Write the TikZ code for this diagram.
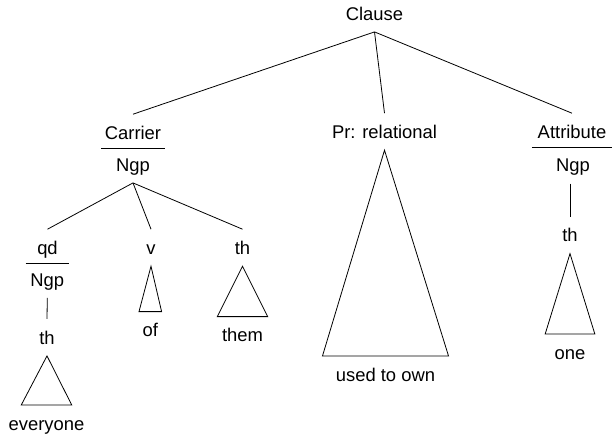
\documentclass[tikz,border=0pt]{standalone}
\usepackage{fontspec}
\setmainfont{Liberation Sans}
\usetikzlibrary{positioning}

\begin{document}
\begin{tikzpicture}[x=1pt, y=-1pt, line width=0.8pt,
  font=\fontsize{18.4}{22}\selectfont]
\tikzstyle{lbl}=[anchor=base, inner xsep=0pt, inner ysep=11.5pt, text height=13.2pt, text depth=0pt]
\tikzstyle{fn}=[lbl, minimum width=#1]
\useasboundingbox (0,0) rectangle (612,440);
% top
\node[lbl] (clause) at (374.5,20) {Clause};
\node[fn=62.6pt] (carrier) at (133,139.3) {Carrier};
\node[lbl] (carrngp) at (133,171) {Ngp};
\node[lbl] (pr) at (384.5,138.3) {Pr: relational};
\node[fn=79.4pt] (attr) at (572,138.3) {Attribute};
\node[lbl] (attrngp) at (573,171.7) {Ngp};
\draw (clause.south) -- (carrier.north);
\draw (clause.south) -- (pr.north);
\draw (clause.south) -- (attr.north);
\draw ([yshift=-9pt]carrier.base west) -- ([yshift=-9pt]carrier.base east);
\draw ([yshift=-9.4pt]attr.base west) -- ([yshift=-9.4pt]attr.base east);
% Carrier daughters
\node[fn=43pt] (qd) at (47.5,254.3) {qd};
\node[lbl] (qdngp) at (47.3,286) {Ngp};
\node[lbl] (v) at (151,254.3) {v};
\node[lbl] (th) at (242.5,254.3) {th};
\draw (carrngp.south) -- (qd.north);
\draw (carrngp.south) -- (v.north);
\draw (carrngp.south) -- (th.north);
\draw ([yshift=-8.6pt]qd.base west) -- ([yshift=-8.6pt]qd.base east);
\node[lbl] (qdth) at (47,344) {th};
\draw (qdngp.south) -- (qdth.north);
% leaves
\node[lbl] (everyone) at (46.5,430) {everyone};
\node[lbl] (of) at (150.3,336.7) {of};
\node[lbl] (them) at (242.5,341.7) {them};
\node[lbl] (used) at (385.5,381) {used to own};
\node[lbl] (attrth) at (570,241.7) {th};
\node[lbl] (one) at (570,359) {one};
\draw (attrth.north |- attrngp.south) -- (attrth.north);
% triangles
\draw (qdth.south) -- ([xshift=-25.2pt]everyone.north) -- ([xshift=25.2pt]everyone.north) -- cycle;
\draw (v.south) -- ([xshift=-11.3pt]of.north) -- ([xshift=11.3pt]of.north) -- cycle;
\draw (th.south) -- ([xshift=-25.2pt]them.north) -- ([xshift=25.2pt]them.north) -- cycle;
\draw (pr.south) -- ([xshift=-63pt]used.north) -- ([xshift=63pt]used.north) -- cycle;
\draw (attrth.south) -- ([xshift=-24.8pt]one.north) -- ([xshift=24.8pt]one.north) -- cycle;
\end{tikzpicture}
\end{document}
